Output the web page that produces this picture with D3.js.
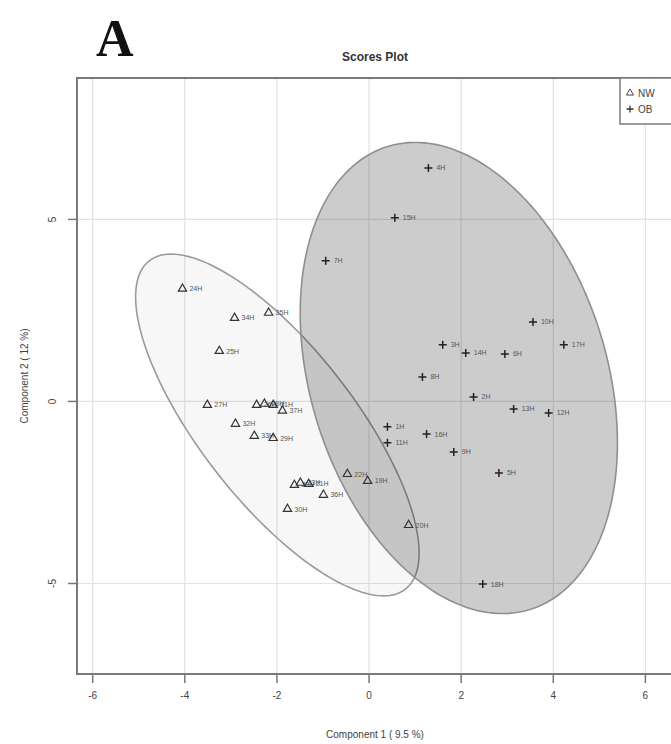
<!DOCTYPE html>
<html>
<head>
<meta charset="utf-8">
<script src="https://cdn.jsdelivr.net/npm/d3@7"></script>
<style>
  body { margin: 0; background: #fff; }
  svg { display: block; font-family: "Liberation Sans", Arial, sans-serif; }
</style>
</head>
<body>
<div id="chart"></div>
<script>
// scores
var nwLabels = ["24H", "34H", "35H", "25H", "27H", "26H", "28H", "31H", "37H", "32H",
                "33H", "29H", "38H", "23H", "21H", "36H", "30H", "22H", "19H", "20H"];
var nwX = [-4.04, -2.91, -2.17, -3.24, -3.50, -2.43, -2.26, -2.07, -1.87, -2.89,
           -2.48, -2.07, -1.61, -1.48, -1.30, -0.98, -1.76, -0.46, -0.02, 0.87];
var nwY = [3.08, 2.28, 2.42, 1.37, -0.11, -0.11, -0.08, -0.11, -0.27, -0.63,
           -0.96, -1.02, -2.31, -2.25, -2.28, -2.58, -2.97, -2.01, -2.20, -3.41];

var obLabels = ["4H", "15H", "7H", "10H", "17H", "3H", "14H", "6H", "8H", "2H",
                "13H", "12H", "1H", "11H", "16H", "9H", "5H", "18H"];
var obX = [1.30, 0.57, -0.93, 3.57, 4.24, 1.61, 2.11, 2.96, 1.17, 2.28,
           3.15, 3.91, 0.41, 0.41, 1.26, 1.85, 2.83, 2.48];
var obY = [6.40, 5.03, 3.85, 2.17, 1.54, 1.54, 1.32, 1.29, 0.66, 0.11,
           -0.22, -0.33, -0.71, -1.15, -0.91, -1.40, -1.98, -5.03];

var xTicks = [-6, -4, -2, 0, 2, 4, 6];
var yTicks = [-5, 0, 5];
var groups = ["NW", "OB"];

// confidence ellipses: centre x,y, half major axis dx,dy, half minor axis dx,dy
var nwEllipse = [-1.98, -0.66, 2.78, -4.51, 1.32, 1.30];
var obEllipse = [1.96, 0.63, 1.54, -6.36, 3.08, 1.19];

var margin = {top: 78, right: -2, bottom: 70, left: 77},
    width = 671 - margin.left - margin.right,
    height = 744 - margin.top - margin.bottom;

var svg = d3.select("#chart")
  .append("svg")
    .attr("width", 671)
    .attr("height", 744);

var g = svg.append("g")
    .attr("transform", "translate(" + margin.left + "," + margin.top + ")");

var x = d3.scaleLinear().domain([-6.33, 6.61]).range([0, width]);
var y = d3.scaleLinear().domain([-7.5, 8.87]).range([height, 0]);

// plain hyphen for negatives, like the original
var plain = function(d) { return String(d); };

// grid
g.append("g")
    .attr("transform", "translate(0," + height + ")")
    .call(d3.axisBottom(x).tickValues(xTicks).tickSize(-height).tickFormat(""))
    .call(function(s) { s.select(".domain").remove(); })
    .selectAll("line").attr("stroke", "#e2e2e2").attr("stroke-width", 1.2);
g.append("g")
    .call(d3.axisLeft(y).tickValues(yTicks).tickSize(-width).tickFormat(""))
    .call(function(s) { s.select(".domain").remove(); })
    .selectAll("line").attr("stroke", "#e2e2e2").attr("stroke-width", 1.2);

// ellipses
var angles = d3.range(0, 360, 2);
function ellipsePath(e) {
  var pts = angles.map(function(a) {
    var t = a * Math.PI / 180;
    return [e[0] + e[2] * Math.cos(t) + e[4] * Math.sin(t),
            e[1] + e[3] * Math.cos(t) + e[5] * Math.sin(t)];
  });
  return d3.line()
    .x(function(d) { return x(d[0]); })
    .y(function(d) { return y(d[1]); })
    .curve(d3.curveLinearClosed)(pts);
}
g.append("path")
    .attr("d", ellipsePath(nwEllipse))
    .attr("fill", "rgba(0,0,0,0.03)")
    .attr("stroke", "#9a9a9a")
    .attr("stroke-width", 1.6);
g.append("path")
    .attr("d", ellipsePath(obEllipse))
    .attr("fill", "rgba(0,0,0,0.2)")
    .attr("stroke", "#8f8f8f")
    .attr("stroke-width", 1.6);

// NW points (open triangles)
var tri = d3.symbol().type(d3.symbolTriangle).size(30);
var nw = g.append("g").selectAll("g")
  .data(nwLabels)
  .enter().append("g")
    .attr("transform", function(d, i) { return "translate(" + x(nwX[i]) + "," + y(nwY[i]) + ")"; });
nw.append("path")
    .attr("d", tri)
    .attr("fill", "none")
    .attr("stroke", "#333")
    .attr("stroke-width", 1.2);
nw.append("text")
    .attr("x", 7)
    .attr("dy", "0.35em")
    .attr("font-size", 7)
    .attr("fill", "#555")
    .text(function(d) { return d; });

// OB points (plus)
var ob = g.append("g").selectAll("g")
  .data(obLabels)
  .enter().append("g")
    .attr("transform", function(d, i) { return "translate(" + x(obX[i]) + "," + y(obY[i]) + ")"; });
ob.append("path")
    .attr("d", "M-4,0H4M0,-4V4")
    .attr("stroke", "#222")
    .attr("stroke-width", 1.5);
ob.append("text")
    .attr("x", 8)
    .attr("dy", "0.35em")
    .attr("font-size", 7)
    .attr("fill", "#555")
    .text(function(d) { return d; });

// box
g.append("rect")
    .attr("width", width)
    .attr("height", height)
    .attr("fill", "none")
    .attr("stroke", "#7a7a7a")
    .attr("stroke-width", 2);

// axes
var xAxis = g.append("g")
    .attr("transform", "translate(0," + (height + 1) + ")")
    .call(d3.axisBottom(x).tickValues(xTicks).tickSize(8).tickPadding(9).tickFormat(plain));
xAxis.select(".domain").remove();
xAxis.selectAll("line").attr("stroke", "#777").attr("stroke-width", 1.5);
xAxis.selectAll("text").attr("font-size", 10).attr("fill", "#444");

var yAxis = g.append("g")
    .attr("transform", "translate(-1,0)")
    .call(d3.axisLeft(y).tickValues(yTicks).tickSize(8).tickFormat(plain));
yAxis.select(".domain").remove();
yAxis.selectAll("line").attr("stroke", "#777").attr("stroke-width", 1.5);
yAxis.selectAll("text")
    .attr("transform", "rotate(-90)")
    .attr("x", 0)
    .attr("y", -20)
    .attr("dy", 0)
    .attr("text-anchor", "middle")
    .attr("font-size", 10)
    .attr("fill", "#444");

// legend
var legend = g.append("g").attr("transform", "translate(" + (width - 53) + ",0)");
legend.append("rect")
    .attr("width", 53)
    .attr("height", 46)
    .attr("fill", "#fff")
    .attr("stroke", "#7a7a7a")
    .attr("stroke-width", 1.5);
legend.append("path")
    .attr("transform", "translate(10,15)")
    .attr("d", d3.symbol().type(d3.symbolTriangle).size(22))
    .attr("fill", "none")
    .attr("stroke", "#444")
    .attr("stroke-width", 1);
legend.append("path")
    .attr("transform", "translate(10,31)")
    .attr("d", "M-3.5,0H3.5M0,-3.5V3.5")
    .attr("stroke", "#333")
    .attr("stroke-width", 1.3);
legend.selectAll("text.lg")
  .data(groups)
  .enter().append("text")
    .attr("class", "lg")
    .attr("x", 18)
    .attr("y", function(d, i) { return 15 + i * 16; })
    .attr("dy", "0.35em")
    .attr("font-size", 10)
    .attr("fill", "#444")
    .text(function(d) { return d; });

// titles
svg.append("text")
    .attr("x", 96)
    .attr("y", 56)
    .attr("font-family", "'Liberation Serif', 'Times New Roman', serif")
    .attr("font-weight", "bold")
    .attr("font-size", 52)
    .attr("fill", "#111")
    .text("A");
svg.append("text")
    .attr("x", margin.left + width / 2)
    .attr("y", 61)
    .attr("text-anchor", "middle")
    .attr("font-weight", "bold")
    .attr("font-size", 12)
    .attr("fill", "#333")
    .text("Scores Plot");
svg.append("text")
    .attr("x", margin.left + width / 2)
    .attr("y", 738)
    .attr("text-anchor", "middle")
    .attr("font-size", 10)
    .attr("fill", "#444")
    .text("Component 1 ( 9.5 %)");
svg.append("text")
    .attr("transform", "translate(28," + (margin.top + height / 2) + ") rotate(-90)")
    .attr("text-anchor", "middle")
    .attr("font-size", 10)
    .attr("fill", "#444")
    .text("Component 2 ( 12 %)");
</script>
</body>
</html>
